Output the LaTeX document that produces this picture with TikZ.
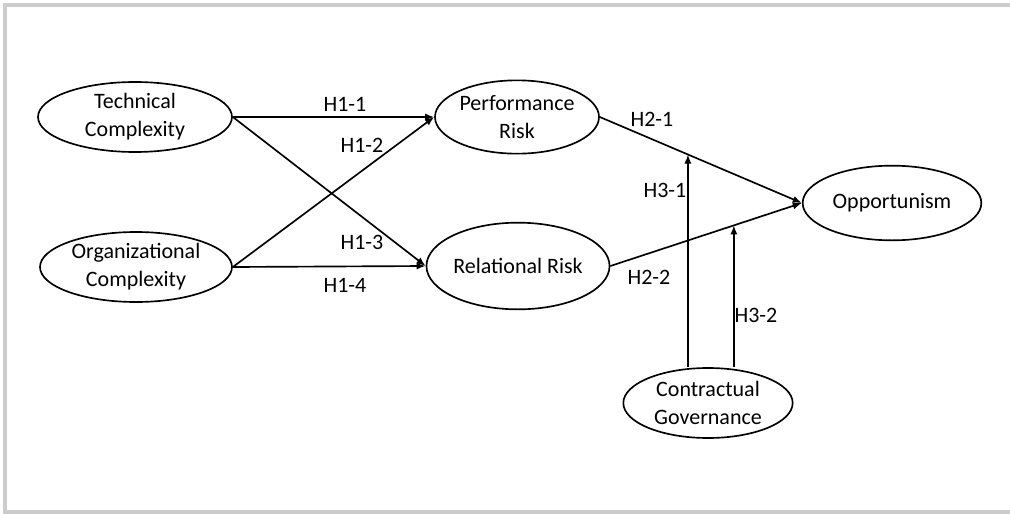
\documentclass[tikz,border=0pt]{standalone}
\usepackage{fontspec}
\setmainfont{Carlito}
\usepackage{tikz}
\usetikzlibrary{arrows.meta,positioning,calc,shapes.geometric}
\tikzset{
  construct/.style={
    draw,
    ellipse,
    line width=1.25pt,
    inner sep=0pt,
    align=center,
    font=\fontsize{16.5}{21}\selectfont
  },
  hyplabel/.style={
    inner sep=0pt,
    font=\fontsize{16.5}{21}\selectfont
  },
  hyparrow/.style={
    -{Latex[length=2.4mm,width=1.9mm]},
    line width=1.25pt
  },
  frameline/.style={
    draw=black!20,
    line width=2.4pt
  }
}

\begin{document}
\begin{tikzpicture}[x=0.75pt,y=-0.75pt]
    \useasboundingbox (0,0) rectangle (1010,514);
    \draw[frameline] (1012,5) -- (5,5) -- (5,512) -- (1012,512);

    \node[construct, minimum width=145.5pt, minimum height=52.5pt] (tech) at (135,117) {Technical\\Complexity};
    \node[construct, minimum width=144pt, minimum height=52.5pt] (org) at (136,267) {Organizational\\Complexity};
    \node[construct, minimum width=123pt, minimum height=55pt] (perf) at (517,117) {Performance\\Risk};
    \node[construct, minimum width=123pt, minimum height=65pt] (rel) at (518,266) {Relational Risk};
    \node[construct, minimum width=134pt, minimum height=56pt] (opp) at (892,203) {Opportunism};
    \node[construct, minimum width=127pt, minimum height=52.5pt] (gov) at (708,403) {Contractual\\Governance};

    \coordinate (m1) at ($(perf.east)!0.436!(opp.west)$);
    \coordinate (m2) at ($(rel.east)!0.645!(opp.west)$);

    \draw[hyparrow] (tech.east) -- (perf.west);
    \draw[hyparrow] (tech.east) -- (rel.west);
    \draw[hyparrow] (org.east) -- (perf.west);
    \draw[hyparrow] (org.east) -- (rel.west);
    \draw[hyparrow] (perf.east) -- (opp.west);
    \draw[hyparrow] (rel.east) -- (opp.west);
    \draw[hyparrow] (m1 |- gov.north) -- (m1);
    \draw[hyparrow] (m2 |- gov.north) -- (m2);

    \node[hyplabel] (h11) at (345,104) {H1-1};
    \node[hyplabel] (h12) at (362,145) {H1-2};
    \node[hyplabel] (h13) at (362,242) {H1-3};
    \node[hyplabel] (h14) at (345,285) {H1-4};
    \node[hyplabel] (h21) at (652,119) {H2-1};
    \node[hyplabel] (h22) at (649,277) {H2-2};
    \node[hyplabel] (h31) at (665,190) {H3-1};
    \node[hyplabel] (h32) at (756,315) {H3-2};
  \end{tikzpicture}
\end{document}
